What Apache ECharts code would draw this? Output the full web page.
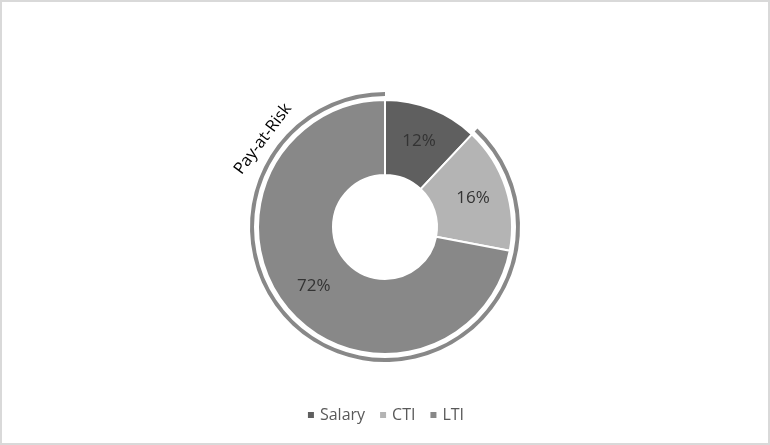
<!DOCTYPE html>
<html><head><meta charset="utf-8">
<script src="https://cdn.jsdelivr.net/npm/echarts@6/dist/echarts.min.js"></script>
<style>html,body{margin:0;padding:0;background:#fff}#c{width:770px;height:445px}</style>
</head><body><div id="c"></div>
<script>
const categories = ['Salary', 'CTI', 'LTI'];
const values = [12, 16, 72];
const colors = ['#5f5f5f', '#b4b4b4', '#888888'];
const ringLabel = 'Pay-at-Risk';
const ringValues = [12, 88];

const chart = echarts.init(document.getElementById('c'));
const font = '"Open Sans", "Noto Sans", sans-serif';
chart.setOption({
  animation: false,
  textStyle: { fontFamily: font },
  legend: {
    data: categories,
    bottom: 17,
    left: 'center',
    itemWidth: 8, itemHeight: 8, itemGap: 13,
    icon: 'rect',
    textStyle: { fontSize: 16, color: '#595959', fontFamily: font }
  },
  graphic: [
    { type: 'rect', shape: { x: 1, y: 1, width: 768, height: 443 }, style: { fill: 'none', stroke: '#d9d9d9', lineWidth: 2 }, silent: true },
    { type: 'text', x: 263, y: 139, rotation: 53 * Math.PI / 180, style: { text: ringLabel, fontSize: 16.5, fill: '#000', fontFamily: font, align: 'center', verticalAlign: 'middle' } }
  ],
  series: [
    {
      type: 'pie',
      center: [385, 227],
      radius: [52, 127],
      startAngle: 90,
      clockwise: true,
      silent: true,
      itemStyle: { borderColor: '#fff', borderWidth: 2 },
      label: { show: true, position: 'inside', formatter: '{d}%', fontSize: 17, color: '#333333', fontFamily: font },
      labelLine: { show: false },
      data: categories.map((n, i) => ({ name: n, value: values[i], itemStyle: { color: colors[i] } }))
    },
    {
      type: 'pie',
      center: [385, 227],
      radius: [131, 135],
      startAngle: 90,
      clockwise: true,
      silent: true,
      label: { show: false },
      labelLine: { show: false },
      data: [
        { name: 'gap', value: ringValues[0], itemStyle: { color: 'rgba(0,0,0,0)' } },
        { name: ringLabel, value: ringValues[1], itemStyle: { color: '#888888' } }
      ]
    }
  ]
});
</script></body></html>
